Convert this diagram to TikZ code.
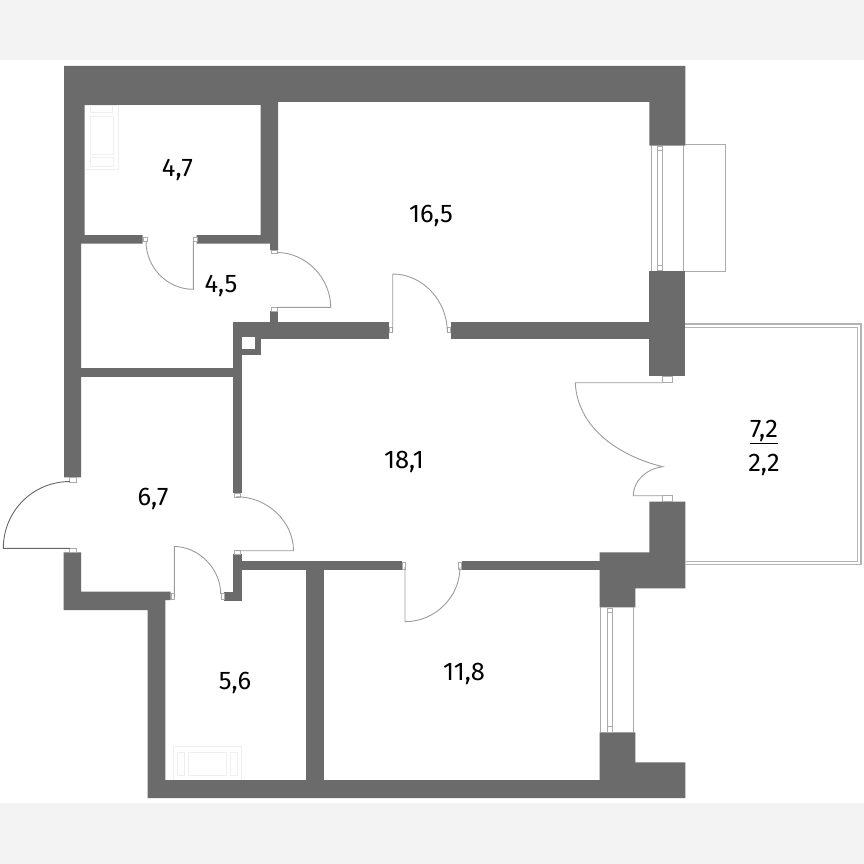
\documentclass[tikz,border=0pt]{standalone}
\usepackage{fontspec}
\setmainfont{Fira Sans}
\definecolor{wallc}{HTML}{6B6B6B}
\definecolor{bandc}{HTML}{F3F3F3}
\definecolor{linec}{HTML}{9C9C9C}
\definecolor{framec}{HTML}{ABABAB}
\definecolor{fixc}{HTML}{EFEFEF}
\definecolor{railc}{HTML}{B4B4B4}
\tikzset{
  wall/.style={fill=wallc,draw=none},
  band/.style={fill=bandc,draw=none},
  leaf/.style={draw=linec,line width=0.9pt},
  doorframe/.style={draw=framec,line width=0.7pt,fill=white},
  windowline/.style={draw=framec,line width=0.9pt},
  rail/.style={draw=railc,line width=1.1pt},
  fixture/.style={draw=fixc,line width=0.9pt},
  area/.style={font=\fontsize{25.5pt}{27pt}\selectfont,text=black,inner sep=0pt}
}
\begin{document}
\begin{tikzpicture}[x=1pt,y=-1pt]
\useasboundingbox (0,0) rectangle (864,864);
\fill[white] (0,0) rectangle (864,864);
\path[band] (0,0) rectangle (864,60);
\path[band] (0,803) rectangle (864,864);
% walls
\path[wall] (64,66)--(685.3,66)--(685.3,145.7)--(649.3,145.7)--(649.3,102)--(278,102)--(278,250)--(270,250)--(270,243.7)--(196.7,243.7)--(196.7,235)--(260.7,235)--(260.7,105)--(84.7,105)--(84.7,235)--(142.7,235)--(142.7,243.7)--(81,243.7)--(81,477.3)--(64,477.3)--cycle;
\path[wall] (81,367.7) rectangle (233,376.7);
\path[wall] (232.7,322.3) rectangle (241.7,493);
\path[wall] (232.7,322.3) rectangle (389.3,339.3);
\path[wall] (450.7,322.3) rectangle (650,339.3);
\path[wall] (241.7,348.7) rectangle (260.7,355);
\path[wall] (254.7,339) rectangle (260.7,355);
\fill[white] (241.7,336.7) rectangle (254.7,348.7);
\path[wall] (270,311) rectangle (278.3,323);
\path[wall] (649.3,270.7) rectangle (685.3,376);
\path[wall] (649.3,501.7)--(685.3,501.7)--(685.3,588.3)--(635.3,588.3)--(635.3,607.3)--(599.7,607.3)--(599.7,552.3)--(649.3,552.3)--cycle;
\path[wall] (233,554.3) rectangle (241.7,600.7);
\path[wall] (224,592.3) rectangle (241.7,600.7);
\path[wall] (241,561) rectangle (401.7,569.7);
\path[wall] (461.7,561) rectangle (600,569.7);
\path[wall] (305.7,569) rectangle (324,781);
\path[wall] (63.7,552.3)--(81,552.3)--(81,591.7)--(170.7,591.7)--(170.7,600)--(165.3,600)--(165.3,780)--(599.7,780)--(599.7,732.3)--(635.3,732.3)--(635.3,762.3)--(685.3,762.3)--(685.3,798)--(147.7,798)--(147.7,610)--(63.7,610)--cycle;
% balcony and loggia rails
\draw[windowline] (685.3,144.7)--(725.3,144.7)--(725.3,271.3)--(685.3,271.3);
\draw[rail] (685.3,324)--(861,324)--(861,564.7)--(685.3,564.7);
\draw[rail,line width=0.8pt] (685.3,327)--(857.5,327)--(857.5,561.7)--(685.3,561.7);
% upper window
\draw[windowline] (651,145.7)--(651,270.7) (683.3,145.7)--(683.3,270.7);
\draw[windowline] (657.3,146) rectangle (662.3,270.5);
\draw[windowline] (657.3,150.7)--(662.3,150.7) (657.3,265)--(662.3,265);
% lower window
\draw[windowline] (600.7,607.3)--(600.7,732.3) (633.3,607.3)--(633.3,732.3);
\draw[windowline] (607.3,608) rectangle (612.3,732);
\draw[windowline] (607.3,612.7)--(612.3,612.7) (607.3,726.7)--(612.3,726.7);
% door frames
\draw[doorframe] (143,237) rectangle (147,241);
\draw[doorframe] (193,237) rectangle (197,241);
\draw[doorframe] (271,250.3) rectangle (277,253.3);
\draw[doorframe] (271,307.3) rectangle (277,311);
\draw[doorframe] (389.3,327) rectangle (392.7,332);
\draw[doorframe] (447.3,327) rectangle (450.7,332);
\draw[doorframe] (662.7,376) rectangle (672.7,382.7);
\draw[doorframe] (662.7,495.3) rectangle (672.7,501.7);
\draw[doorframe] (402,562) rectangle (405,569);
\draw[doorframe] (458.7,562) rectangle (461.7,569);
\draw[doorframe] (69.7,477.3) rectangle (76.3,482);
\draw[doorframe] (69.7,548.3) rectangle (76.3,552.3);
\draw[doorframe] (234.5,493) rectangle (240.5,497);
\draw[doorframe] (234.5,550.7) rectangle (240.5,554.3);
\draw[doorframe] (171,593) rectangle (174.3,599);
\draw[doorframe] (221,593) rectangle (224,599);
% door leaves
\draw[leaf] (146,241) arc[start angle=180,end angle=90,x radius=47.3,y radius=48.3] -- (193.3,241);
\draw[leaf] (277,252.5) .. controls (306,252.5) and (330.7,278) .. (330.7,307.3) -- (277,307.3);
\draw[leaf] (392.7,332) -- (392.7,274) .. controls (422,274) and (447.3,300) .. (447.3,332);
\draw[leaf] (405,567) -- (405,621.7) .. controls (435,621.7) and (460,597) .. (460,567);
\draw[leaf] (662.7,382.7) -- (575.3,382.7) .. controls (577,425) and (615,455) .. (662.7,466.7) .. controls (645,469) and (633.3,482) .. (633.3,495.7) -- (662.7,495.7);
\draw[leaf,draw=black!60] (70,548.4) -- (3.3,548.4) .. controls (3.3,511) and (33,481.5) .. (70,481.5);
\draw[leaf] (236,496.7) .. controls (268,496.7) and (293.5,522) .. (293.5,550.7) -- (236,550.7);
\draw[leaf] (174.3,598) -- (174.3,546.5) .. controls (198,546.5) and (220.7,568) .. (220.7,594);
% fixtures
\draw[fixture] (85,105) -- (118,105) -- (118,169) -- (85,169);
\draw[fixture] (90.7,105) rectangle (112.7,112);
\draw[fixture] (90.7,116) rectangle (113,154);
\draw[fixture] (90.7,157.7) rectangle (113,166.7);
\draw[fixture] (173.7,780) -- (173.7,746) -- (241.7,746) -- (241.7,780);
\draw[fixture] (177.7,752.3) rectangle (184,775.7);
\draw[fixture] (188.3,752.3) rectangle (226,775.7);
\draw[fixture] (230,752.3) rectangle (237.7,775.7);
% labels
\node[area] (a47) at (177.5,170) {4,7};
\node[area] (a165) at (431,216) {16,5};
\node[area] (a45) at (221,286) {4,5};
\node[area] (a181) at (404,462) {18,1};
\node[area] (a67) at (153,499) {6,7};
\node[area] (a56) at (235,683) {5,6};
\node[area] (a118) at (464,674) {11,8};
\node[area] (a72) at (764,432) {\underline{7,2}};
\node[area] (a22) at (764,465) {2,2};
\end{tikzpicture}
\end{document}
